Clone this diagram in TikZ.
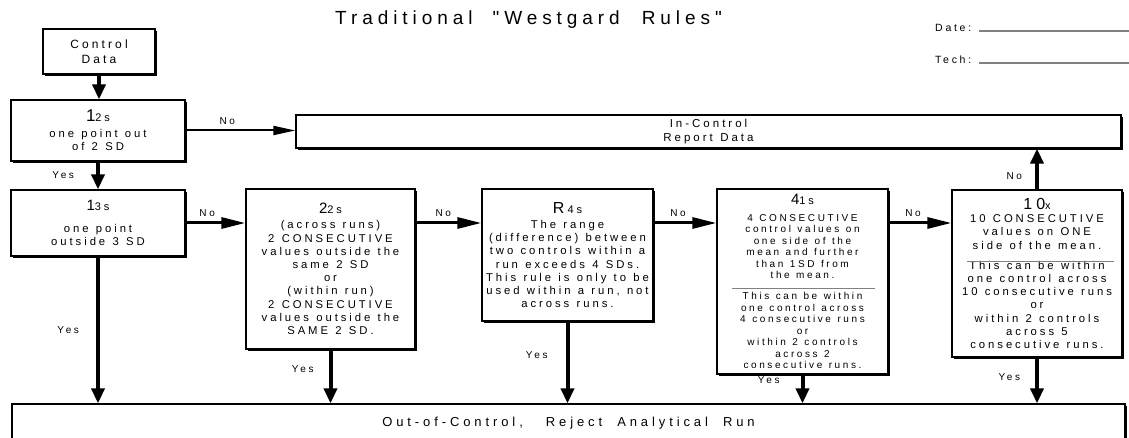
\documentclass[tikz,border=0pt]{standalone}
\usepackage{fontspec}
\setmainfont{Liberation Sans}[LetterSpace=26, WordSpace=1.2]
\newfontfamily\titlefont{Liberation Sans}[LetterSpace=26]
\newfontfamily\widefont{Liberation Sans}[LetterSpace=30, WordSpace=2]
\usetikzlibrary{arrows.meta,shadows}

% rule heading: large number with a smaller suffix on the same baseline
\newcommand\wrhead[3]{{\fontsize{#1}{#1}\selectfont #2}{\fontsize{11}{13}\selectfont #3}}

\begin{document}
\begin{tikzpicture}[x=1pt,y=-1pt,
  box/.style={draw, line width=1.3pt, fill=white, align=center, inner sep=2pt,
    drop shadow={shadow xshift=2.2pt, shadow yshift=-2.2pt, fill=black, opacity=1}},
  body/.style={font=\fontsize{11.3}{13.2}\selectfont},
  small/.style={font=\fontsize{10}{11.5}\selectfont},
  lab/.style={font=\fontsize{10}{11}\selectfont, inner sep=1pt},
  vthick/.style={line width=4pt, -{Triangle[length=15pt,width=13pt]}},
  hthin/.style={line width=2pt, -{Triangle[length=22pt,width=9pt]}},
  hmid/.style={line width=3pt, -{Triangle[length=24pt,width=11pt]}},
  fieldline/.style={draw=gray, line width=1.3pt},
  sepline/.style={draw=gray, line width=0.9pt}]

\useasboundingbox (0,0) rectangle (1129,438);

% heading and form fields
\node[font=\titlefont\fontsize{19}{21}\selectfont, anchor=base west, inner sep=0pt] (title) at (335,25)
  {Traditional\hspace{20pt}"Westgard\hspace{22pt}Rules"};
\node[font=\fontsize{10.5}{12}\selectfont, anchor=base west, inner sep=0pt] (date) at (935,32) {Date:};
\node[font=\fontsize{10.5}{12}\selectfont, anchor=base west, inner sep=0pt] (tech) at (935,64) {Tech:};
\draw[fieldline] (979,31) -- (1129,31);
\draw[fieldline] (979,63) -- (1129,63);

% boxes
\node[box, font=\fontsize{12}{15}\selectfont, minimum width=112pt, minimum height=45pt] (ctrl) at (99,51.5) {Control\\Data};

\node[box, body, minimum width=174pt, minimum height=61pt] (r12) at (98,130.5)
  {\wrhead{17}{1}{2s}\\[3pt] one point out\\ of 2 SD};

\node[box, font=\fontsize{11.5}{14}\selectfont, minimum width=825pt, minimum height=33pt] (inctrl) at (708.5,131.5)
  {In-Control\\Report Data};

\node[box, body, minimum width=174pt, minimum height=66pt] (r13) at (98,223)
  {\wrhead{15}{1}{3s}\\[9pt] one point\\ outside 3 SD};

\node[box, body, minimum width=169pt, minimum height=160pt] (r22) at (330.5,269)
  {\wrhead{15}{2}{2s}\\[2pt] (across runs)\\ 2 CONSECUTIVE\\ values outside the\\ same 2 SD\\ or\\ (within run)\\ 2 CONSECUTIVE\\ values outside the\\ SAME 2 SD.};

\node[box, body, minimum width=171pt, minimum height=132pt] (r4s) at (567.5,255)
  {\wrhead{16}{R\hspace{3pt}}{4s}\\[2pt] The range\\ (difference) between\\ two controls within a\\ run exceeds 4 SDs.\\ This rule is only to be\\ used within a run, not\\ across runs.};

\node[box, small, minimum width=171pt, minimum height=185pt] (r41) at (802.5,281.5)
  {\wrhead{15}{4}{1s}\\[5pt] 4 CONSECUTIVE\\ control values on\\ one side of the\\ mean and further\\ than 1SD from\\ the mean.\\[9.5pt] This can be within\\ one control across\\ 4 consecutive runs\\ or\\ within 2 controls\\ across 2\\ consecutive runs.};

\node[box, body, minimum width=170pt, minimum height=167pt] (r10) at (1037,273.5)
  {\wrhead{16}{10}{x}\\ 10 CONSECUTIVE\\ values on ONE\\ side of the mean.\\[7pt] This can be within\\ one control across\\ 10 consecutive runs\\ or\\ within 2 controls\\ across 5\\ consecutive runs.};

\node[box, font=\widefont\fontsize{13}{15}\selectfont, minimum width=1113pt, minimum height=38pt] (outctrl) at (568.5,423)
  {Out-of-Control,\hspace{8pt} Reject Analytical Run};

% grey separators between the two halves of the long rules
\draw[sepline] (732,288) -- (875,288);
\draw[sepline] (967,261) -- (1114,261);

% connectors
\draw[vthick] (ctrl.south) -- (ctrl.south |- r12.north);
\draw[hthin] (r12.east) -- (r12.east -| inctrl.west) node[lab, pos=0.38, above=4pt] {No};
\draw[vthick] (r12.south) -- (r12.south |- r13.north) node[lab, midway, left=21pt] {Yes};

\draw[hmid] (r13.east) -- (r13.east -| r22.west) node[lab, pos=0.36, above=3.5pt] {No};
\draw[hmid] (r22.east |- r13.east) -- (r13.east -| r4s.west) node[lab, pos=0.42, above=3.5pt] {No};
\draw[hmid] (r4s.east |- r13.east) -- (r13.east -| r41.west) node[lab, pos=0.39, above=3.5pt] {No};
\draw[hmid] (r41.east |- r13.east) -- (r13.east -| r10.west) node[lab, pos=0.39, above=3.5pt] {No};
\draw[vthick] (r10.north) -- (r10.north |- inctrl.south) node[lab, pos=0.33, left=12pt] {No};

\draw[vthick] (r13.south) -- (r13.south |- outctrl.north) node[lab, midway, left=16pt] {Yes};
\draw[vthick] (r22.south) -- (r22.south |- outctrl.north) node[lab, pos=0.36, left=14pt] {Yes};
\draw[vthick] (r4s.south) -- (r4s.south |- outctrl.north) node[lab, pos=0.41, left=17pt] {Yes};
\draw[vthick] (r41.south) -- (r41.south |- outctrl.north) node[lab, pos=0.2, left=20pt] {Yes};
\draw[vthick] (r10.south) -- (r10.south |- outctrl.north) node[lab, pos=0.43, left=14pt] {Yes};
\end{tikzpicture}
\end{document}
